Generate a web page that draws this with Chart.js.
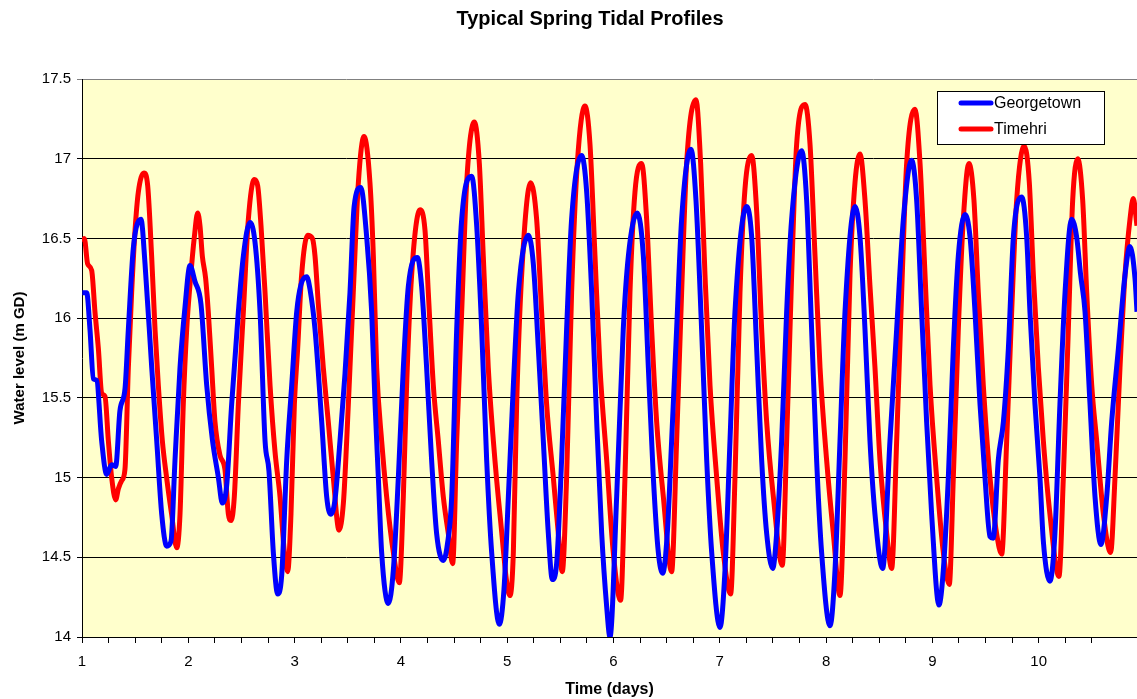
<!DOCTYPE html>
<html>
<head>
<meta charset="utf-8">
<title>Typical Spring Tidal Profiles</title>
<script src="https://cdn.jsdelivr.net/npm/chart.js@4/dist/chart.umd.min.js"></script>
<style>
  html, body { margin: 0; padding: 0; background: #fff; }
  #wrap { width: 1137px; height: 699px; }
</style>
</head>
<body>
<div id="wrap"><canvas id="tideChart" width="1137" height="699"></canvas></div>
<script>
// water levels (m GD) against time in days
var georgetownDays = [
  1.003, 1.044, 1.075, 1.107, 1.138, 1.185, 1.232, 1.279, 1.317, 1.357, 1.405, 1.436, 1.483, 1.555, 1.593,
  1.656, 1.703, 1.750, 1.797, 1.837, 1.875, 1.922, 1.969, 2.016, 2.063, 2.119, 2.173, 2.226, 2.283, 2.320,
  2.361, 2.408, 2.471, 2.518, 2.580, 2.627, 2.675, 2.722, 2.759, 2.800, 2.841, 2.879, 2.926, 2.973, 3.020,
  3.060, 3.114, 3.145, 3.192, 3.255, 3.302, 3.339, 3.380, 3.427, 3.474, 3.521, 3.560, 3.622, 3.678, 3.725,
  3.757, 3.788, 3.819, 3.882, 3.929, 3.976, 4.023, 4.070, 4.155, 4.195, 4.242, 4.289, 4.336, 4.399, 4.437,
  4.478, 4.525, 4.572, 4.666, 4.713, 4.760, 4.807, 4.854, 4.926, 4.970, 5.011, 5.058, 5.105, 5.199, 5.246,
  5.293, 5.340, 5.387, 5.425, 5.465, 5.512, 5.559, 5.606, 5.700, 5.748, 5.795, 5.842, 5.889, 5.936, 5.967,
  6.030, 6.092, 6.140, 6.224, 6.281, 6.328, 6.375, 6.422, 6.463, 6.506, 6.547, 6.594, 6.641, 6.729, 6.776,
  6.829, 6.877, 6.924, 7.002, 7.049, 7.096, 7.143, 7.253, 7.300, 7.347, 7.394, 7.441, 7.498, 7.535, 7.582,
  7.629, 7.676, 7.770, 7.817, 7.864, 7.911, 7.958, 8.037, 8.084, 8.131, 8.178, 8.272, 8.319, 8.366, 8.413,
  8.460, 8.532, 8.601, 8.664, 8.727, 8.805, 8.852, 8.899, 8.946, 8.993, 9.062, 9.103, 9.150, 9.197, 9.244,
  9.307, 9.354, 9.401, 9.448, 9.495, 9.542, 9.573, 9.620, 9.668, 9.715, 9.762, 9.840, 9.887, 9.918, 9.965,
  10.012, 10.044, 10.106, 10.153, 10.200, 10.248, 10.310, 10.357, 10.395, 10.436, 10.483, 10.530, 10.586,
  10.640, 10.687, 10.750, 10.812, 10.859, 10.906, 10.925
];
var georgetownLevels = [
  16.16, 16.16, 15.93, 15.62, 15.61, 15.23, 15.02, 15.08, 15.07, 15.42, 15.56, 15.93, 16.44, 16.62, 16.34,
  15.69, 15.23, 14.77, 14.57, 14.60, 15.11, 15.69, 16.07, 16.33, 16.23, 16.09, 15.58, 15.24, 15.00, 14.84,
  14.95, 15.46, 16.04, 16.39, 16.60, 16.48, 16.04, 15.23, 15.04, 14.53, 14.27, 14.39, 15.11, 15.58, 16.04,
  16.21, 16.26, 16.18, 15.93, 15.35, 14.88, 14.77, 14.86, 15.23, 15.65, 16.16, 16.70, 16.82, 16.51, 16.04,
  15.46, 15.00, 14.53, 14.21, 14.42, 15.00, 15.69, 16.20, 16.38, 16.20, 15.69, 15.11, 14.65, 14.48, 14.58,
  14.88, 15.93, 16.62, 16.89, 16.58, 15.93, 15.11, 14.53, 14.08, 14.30, 14.88, 15.58, 16.16, 16.52, 16.34,
  15.81, 15.23, 14.65, 14.36, 14.46, 15.11, 15.93, 16.62, 17.02, 16.79, 16.16, 15.35, 14.65, 14.19, 14.00,
  14.88, 15.93, 16.39, 16.66, 16.39, 15.69, 15.00, 14.53, 14.40, 14.65, 15.23, 15.93, 16.62, 17.06, 16.74,
  15.93, 15.11, 14.53, 14.06, 14.42, 15.23, 16.04, 16.70, 16.51, 15.81, 15.11, 14.65, 14.43, 14.65, 15.23,
  16.04, 16.62, 17.05, 16.74, 15.93, 15.11, 14.53, 14.07, 14.42, 15.23, 16.04, 16.70, 16.51, 15.93, 15.23,
  14.77, 14.43, 15.23, 15.93, 16.62, 16.99, 16.74, 16.04, 15.35, 14.77, 14.20, 14.42, 15.00, 15.81, 16.39,
  16.65, 16.51, 16.04, 15.46, 15.00, 14.63, 14.62, 15.11, 15.35, 15.81, 16.51, 16.76, 16.51, 16.04, 15.46,
  15.00, 14.60, 14.35, 14.65, 15.46, 16.16, 16.62, 16.51, 16.27, 16.04, 15.46, 14.88, 14.58,
  14.88, 15.35, 15.81, 16.27, 16.45, 16.25, 16.04
];

var timehriDays = [
  1.003, 1.022, 1.053, 1.091, 1.122, 1.154, 1.185, 1.216, 1.248, 1.279, 1.317, 1.342, 1.373, 1.404, 1.436,
  1.467, 1.499, 1.530, 1.583, 1.618, 1.655, 1.687, 1.718, 1.756, 1.796, 1.843, 1.891, 1.922, 1.953, 1.985,
  2.016, 2.057, 2.088, 2.110, 2.132, 2.163, 2.188, 2.220, 2.251, 2.298, 2.345, 2.377, 2.402, 2.433, 2.471,
  2.518, 2.565, 2.621, 2.653, 2.684, 2.722, 2.769, 2.816, 2.863, 2.904, 2.935, 2.966, 2.998, 3.029, 3.066,
  3.123, 3.167, 3.192, 3.223, 3.270, 3.317, 3.364, 3.418, 3.459, 3.490, 3.521, 3.552, 3.600, 3.653, 3.709,
  3.741, 3.772, 3.819, 3.866, 3.929, 3.985, 4.023, 4.054, 4.101, 4.180, 4.227, 4.258, 4.305, 4.352, 4.399,
  4.446, 4.487, 4.525, 4.572, 4.619, 4.691, 4.738, 4.775, 4.822, 4.870, 4.932, 5.026, 5.058, 5.089, 5.136,
  5.221, 5.277, 5.324, 5.371, 5.434, 5.481, 5.518, 5.559, 5.606, 5.660, 5.732, 5.779, 5.826, 5.873, 5.936,
  5.998, 6.067, 6.108, 6.155, 6.202, 6.265, 6.312, 6.359, 6.406, 6.469, 6.547, 6.594, 6.641, 6.688, 6.776,
  6.820, 6.861, 6.908, 6.971, 7.033, 7.102, 7.143, 7.190, 7.237, 7.300, 7.347, 7.394, 7.441, 7.504, 7.588,
  7.629, 7.676, 7.723, 7.802, 7.849, 7.896, 7.943, 8.005, 8.068, 8.131, 8.178, 8.225, 8.272, 8.319, 8.366,
  8.413, 8.460, 8.507, 8.570, 8.617, 8.664, 8.711, 8.758, 8.836, 8.884, 8.931, 8.978, 9.040, 9.103, 9.159,
  9.197, 9.244, 9.291, 9.344, 9.391, 9.432, 9.479, 9.542, 9.604, 9.652, 9.699, 9.746, 9.793, 9.865, 9.912,
  9.950, 9.997, 10.044, 10.106, 10.191, 10.232, 10.279, 10.320, 10.367, 10.414, 10.452, 10.499, 10.546,
  10.609, 10.677, 10.718, 10.765, 10.812, 10.859, 10.890, 10.925
];
var timehriLevels = [
  16.48, 16.50, 16.34, 16.30, 16.04, 15.81, 15.53, 15.51, 15.23, 15.00, 14.86, 14.93, 14.98, 15.05, 15.69,
  16.16, 16.55, 16.79, 16.91, 16.83, 16.39, 15.93, 15.58, 15.23, 15.00, 14.77, 14.56, 14.77, 15.46, 15.93,
  16.21, 16.51, 16.66, 16.58, 16.39, 16.25, 16.04, 15.69, 15.35, 15.14, 15.05, 14.77, 14.73, 14.88, 15.46,
  16.04, 16.62, 16.87, 16.83, 16.58, 16.16, 15.58, 15.16, 14.88, 14.53, 14.41, 14.77, 15.46, 15.81, 16.27,
  16.52, 16.50, 16.39, 16.09, 15.69, 15.35, 15.00, 14.67, 14.84, 15.23, 15.69, 16.16, 16.85, 17.14, 16.85,
  16.39, 15.69, 15.23, 14.88, 14.53, 14.34, 14.88, 15.58, 16.27, 16.68, 16.55, 16.16, 15.58, 15.23, 14.88,
  14.65, 14.46, 15.23, 16.04, 16.85, 17.23, 16.97, 16.39, 15.69, 15.23, 14.77, 14.26, 14.53, 15.46, 16.27,
  16.85, 16.62, 16.04, 15.46, 15.00, 14.65, 14.41, 15.00, 16.16, 16.97, 17.33, 17.09, 16.39, 15.69, 15.11,
  14.53, 14.23, 15.00, 16.16, 16.79, 16.97, 16.62, 15.93, 15.35, 14.88, 14.41, 15.23, 16.16, 16.97, 17.37,
  16.97, 16.27, 15.58, 15.00, 14.53, 14.27, 15.00, 16.16, 16.81, 17.02, 16.67, 15.93, 15.35, 14.88, 14.45,
  15.23, 16.27, 17.09, 17.34, 17.09, 16.39, 15.69, 15.11, 14.65, 14.26, 15.11, 16.27, 16.85, 17.03, 16.74,
  16.20, 15.69, 15.11, 14.65, 14.43, 15.23, 16.16, 16.97, 17.31, 16.97, 16.27, 15.58, 15.00, 14.53, 14.33,
  15.00, 15.93, 16.62, 16.97, 16.74, 16.16, 15.58, 15.00, 14.65, 14.52, 15.23, 16.04, 16.74, 17.08, 16.85,
  16.27, 15.69, 15.23, 14.77, 14.38, 15.00, 15.93, 16.74, 17.00, 16.74, 16.16, 15.58, 15.23,
  14.77, 14.53, 15.00, 15.69, 16.27, 16.62, 16.75, 16.58
];

var seriesNames = ['Georgetown', 'Timehri'];
var seriesColors = ['#0000ff', '#ff0000'];
var chartTitle = 'Typical Spring Tidal Profiles';

function toPoints(days, levels) {
  var pts = [];
  for (var i = 0; i < days.length; i++) pts.push({ x: days[i], y: levels[i] });
  return pts;
}

var FONT = "'Liberation Sans', Arial, sans-serif";

// pale yellow plot area
var plotBackground = {
  id: 'plotBackground',
  beforeDraw: function (chart) {
    var a = chart.chartArea, c = chart.ctx;
    c.save();
    c.fillStyle = '#ffffcc';
    c.fillRect(a.left, a.top, a.right - a.left, a.bottom - a.top);
    c.restore();
  }
};

// title sits a little left of the plot centre
var chartHeading = {
  id: 'chartHeading',
  afterDraw: function (chart) {
    var c = chart.ctx;
    c.save();
    c.font = 'bold 20px ' + FONT;
    c.fillStyle = '#000';
    c.textAlign = 'center';
    c.textBaseline = 'middle';
    c.fillText(chartTitle, 590, 19);
    c.restore();
  }
};

// boxed legend in the upper right corner of the plot
var boxLegend = {
  id: 'boxLegend',
  afterDatasetsDraw: function (chart) {
    var a = chart.chartArea, c = chart.ctx;
    var w = 167, h = 53;
    var x = a.right - 33 - w, y = a.top + 12;
    c.save();
    c.fillStyle = '#fff';
    c.fillRect(x + 0.5, y + 0.5, w, h);
    c.strokeStyle = '#000';
    c.lineWidth = 1;
    c.strokeRect(x + 0.5, y + 0.5, w, h);
    c.font = '16px ' + FONT;
    c.textBaseline = 'middle';
    c.textAlign = 'left';
    chart.data.datasets.forEach(function (ds, i) {
      var ly = y + 12 + i * 26;
      c.strokeStyle = ds.borderColor;
      c.lineWidth = 5;
      c.lineCap = 'round';
      c.beginPath();
      c.moveTo(x + 24, ly);
      c.lineTo(x + 54, ly);
      c.stroke();
      c.fillStyle = '#000';
      c.fillText(ds.label, x + 57, ly + 1);
    });
    c.restore();
  }
};

var ctx = document.getElementById('tideChart').getContext('2d');
var tideChart = new Chart(ctx, {
  type: 'line',
  data: {
    datasets: [
      {
        label: seriesNames[0],
        data: toPoints(georgetownDays, georgetownLevels),
        borderColor: seriesColors[0],
        borderWidth: 5,
        pointRadius: 0,
        cubicInterpolationMode: 'monotone',
        borderJoinStyle: 'round',
        fill: false
      },
      {
        label: seriesNames[1],
        data: toPoints(timehriDays, timehriLevels),
        borderColor: seriesColors[1],
        borderWidth: 5,
        pointRadius: 0,
        cubicInterpolationMode: 'monotone',
        borderJoinStyle: 'round',
        fill: false
      }
    ]
  },
  options: {
    responsive: false,
    animation: false,
    devicePixelRatio: 1,
    layout: { autoPadding: false, padding: { top: 79, right: 0, bottom: 0, left: 0 } },
    plugins: {
      legend: { display: false },
      title: { display: false },
      tooltip: { enabled: false }
    },
    scales: {
      x: {
        type: 'linear',
        min: 1,
        max: 10.925,
        afterFit: function (s) {
          s.height = 62;
          // plot runs right up to the canvas edge
          s.paddingLeft = 0;
          s.paddingRight = 0;
        },
        border: { color: '#000', width: 1 },
        grid: { drawOnChartArea: false, drawTicks: true, tickLength: 6, color: '#000' },
        ticks: {
          stepSize: 0.25,
          autoSkip: false,
          maxRotation: 0,
          padding: 10,
          color: '#000',
          font: { family: FONT, size: 15 },
          callback: function (v) { return Number.isInteger(v) ? String(v) : ''; }
        },
        title: {
          display: true,
          text: 'Time (days)',
          color: '#000',
          font: { family: FONT, size: 16, weight: 'bold' },
          padding: { top: 0, bottom: 0 }
        }
      },
      y: {
        min: 14,
        max: 17.5,
        afterFit: function (s) { s.width = 82; },
        border: { color: '#000', width: 1 },
        grid: {
          color: function (c) { return c.tick && c.tick.value === 17.5 ? '#808080' : '#000'; },
          lineWidth: 1,
          drawTicks: true,
          tickLength: 5
        },
        ticks: {
          stepSize: 0.5,
          padding: 6,
          color: '#000',
          font: { family: FONT, size: 15 },
          callback: function (v) { return String(v); }
        },
        title: {
          display: true,
          text: 'Water level (m GD)',
          color: '#000',
          font: { family: FONT, size: 15, weight: 'bold' },
          padding: { top: 11, bottom: 0 }
        }
      }
    }
  },
  plugins: [plotBackground, chartHeading, boxLegend]
});
</script>
</body>
</html>
